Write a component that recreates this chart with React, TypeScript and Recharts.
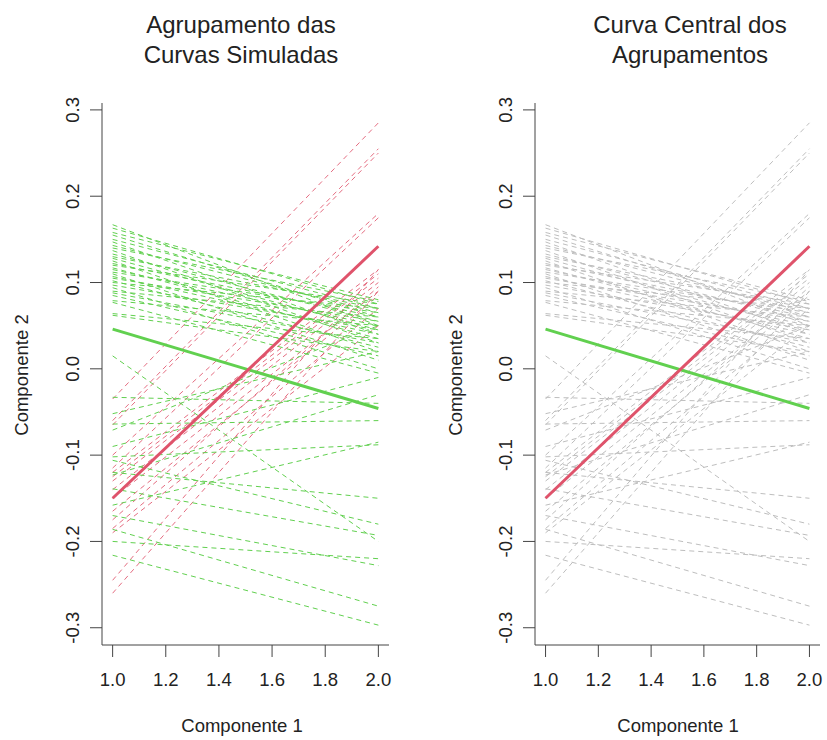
import { LineChart, Line, XAxis, YAxis } from "recharts";

// x positions of every curve (two-point straight curves)
const xValues = [1, 2];

// red cluster (dashed) : value at x = 1 and at x = 2
const redStart = [-0.035, -0.06, -0.065, -0.1, -0.115, -0.12, -0.125, -0.13, -0.14, -0.15, -0.165, -0.175, -0.185, -0.19, -0.245, -0.26];
const redEnd = [0.285, 0.255, 0.25, 0.18, 0.175, 0.115, 0.11, 0.105, 0.1, 0.09, 0.085, 0.095, 0.07, 0.05, 0.115, 0.09];

// green cluster (dashed)
const greenStart = [
	0.167, 0.163, 0.158, 0.155, 0.15, 0.147, 0.143, 0.14, 0.137, 0.133, 0.13, 0.128, 0.125, 0.122, 0.12, 0.117,
	0.115, 0.112, 0.11, 0.107, 0.105, 0.102, 0.1, 0.097, 0.094, 0.09, 0.088, 0.085, 0.079, 0.077, 0.064, 0.062,
	0.015, -0.033, -0.052, -0.064, -0.071, -0.09, -0.102, -0.106, -0.123, -0.139, -0.158, -0.17, -0.186, -0.2, -0.12, -0.216,
];
const greenEnd = [
	0.05, 0.075, 0.08, 0.06, 0.07, 0.04, 0.065, 0.078, 0.03, 0.055, 0.07, 0.045, 0.02, 0.06, 0.075, 0.035,
	0.05, 0.065, 0.01, 0.04, 0.055, 0.025, 0.07, 0.045, 0.0, 0.06, 0.03, 0.015, 0.05, -0.005, 0.035, 0.02,
	-0.2, -0.04, 0.02, -0.06, 0.05, -0.01, -0.088, -0.18, -0.03, -0.193, -0.085, -0.228, -0.275, -0.22, -0.15, -0.297,
];

// central curves of each group
const centralRed = [-0.15, 0.142];
const centralGreen = [0.046, -0.046];

const xTicks = [1, 1.2, 1.4, 1.6, 1.8, 2];
const yTicks = [-0.3, -0.2, -0.1, 0, 0.1, 0.2, 0.3];

const RED = "#DF536B";
const GREEN = "#61D04F";
const GRAY = "#BEBEBE";
const FONT = "'Liberation Sans', Arial, sans-serif";
const TXT = "#222";

const toPoints = (ys: number[]) => xValues.map((x, i) => ({ x: x, y: ys[i] }));

const XTick = (props: any) => {
	const { x, y, payload } = props;
	return (
		<text x={x} y={y} dy={27} textAnchor="middle" fontSize={18.5} fill={TXT} fontFamily={FONT}>
			{Number(payload.value).toFixed(1)}
		</text>
	);
};

const YTick = (props: any) => {
	const { x, y, payload } = props;
	const bx = x - 9;
	return (
		<text x={bx} y={y} transform={`rotate(-90, ${bx}, ${y})`} textAnchor="middle" fontSize={18.5} fill={TXT} fontFamily={FONT}>
			{Number(payload.value).toFixed(1)}
		</text>
	);
};

const Panel = ({
	left,
	width,
	marginLeft,
	marginRight,
	colored,
}: {
	left: number;
	width: number;
	marginLeft: number;
	marginRight: number;
	colored: boolean;
}) => (
	<div style={{ position: "absolute", left: left, top: 0 }}>
		<LineChart width={width} height={740} margin={{ top: 103, right: marginRight, bottom: 35, left: marginLeft }}>
			<XAxis
				dataKey="x"
				type="number"
				domain={[0.96, 2.04]}
				ticks={xTicks}
				allowDataOverflow
				height={60}
				tickSize={12}
				tickMargin={2}
				stroke="#444"
				tick={<XTick />}
			/>
			<XAxis xAxisId="top" orientation="top" type="number" domain={[0.96, 2.04]} height={0} tick={false} tickLine={false} stroke="#444" />
			<YAxis
				dataKey="y"
				type="number"
				domain={[-0.32, 0.308]}
				ticks={yTicks}
				allowDataOverflow
				width={60}
				tickSize={12}
				tickMargin={2}
				stroke="#444"
				tick={<YTick />}
			/>
			<YAxis yAxisId="right" orientation="right" type="number" domain={[-0.32, 0.308]} width={0} tick={false} tickLine={false} stroke="#444" />
			{redStart.map((s, i) => (
				<Line
					key={"r" + i}
					data={toPoints([s, redEnd[i]])}
					dataKey="y"
					type="linear"
					stroke={colored ? RED : GRAY}
					strokeOpacity={colored ? 0.85 : 1}
					strokeWidth={1}
					strokeDasharray="5 4"
					dot={false}
					activeDot={false}
					isAnimationActive={false}
				/>
			))}
			{greenStart.map((s, i) => (
				<Line
					key={"g" + i}
					data={toPoints([s, greenEnd[i]])}
					dataKey="y"
					type="linear"
					stroke={colored ? GREEN : GRAY}
					strokeWidth={1}
					strokeDasharray="5 4"
					dot={false}
					activeDot={false}
					isAnimationActive={false}
				/>
			))}
			<Line data={toPoints(centralGreen)} dataKey="y" type="linear" stroke={GREEN} strokeWidth={3} dot={false} activeDot={false} isAnimationActive={false} />
			<Line data={toPoints(centralRed)} dataKey="y" type="linear" stroke={RED} strokeWidth={3} dot={false} activeDot={false} isAnimationActive={false} />
		</LineChart>
	</div>
);

const Texts = () => (
	<svg width={827} height={740} style={{ position: "absolute", left: 0, top: 0, pointerEvents: "none" }} fontFamily={FONT} fill={TXT}>
		<text x={241} y={33} textAnchor="middle" fontSize={24}>Agrupamento das</text>
		<text x={241} y={63} textAnchor="middle" fontSize={24}>Curvas Simuladas</text>
		<text x={690} y={33} textAnchor="middle" fontSize={24}>Curva Central dos</text>
		<text x={690} y={63} textAnchor="middle" fontSize={24}>Agrupamentos</text>
		<text x={242} y={732} textAnchor="middle" fontSize={18.5}>Componente 1</text>
		<text x={678} y={732} textAnchor="middle" fontSize={18.5}>Componente 1</text>
		<text x={28} y={375} textAnchor="middle" fontSize={18.5} transform="rotate(-90, 28, 375)">Componente 2</text>
		<text x={462} y={375} textAnchor="middle" fontSize={18.5} transform="rotate(-90, 462, 375)">Componente 2</text>
	</svg>
);

export default function App() {
	return (
		<div style={{ position: "absolute", left: 0, top: 0, width: 827, height: 740, background: "#fff" }}>
			<Panel left={0} width={413} marginLeft={42} marginRight={24} colored={true} />
			<Panel left={413} width={414} marginLeft={62} marginRight={7} colored={false} />
			<Texts />
		</div>
	);
}
